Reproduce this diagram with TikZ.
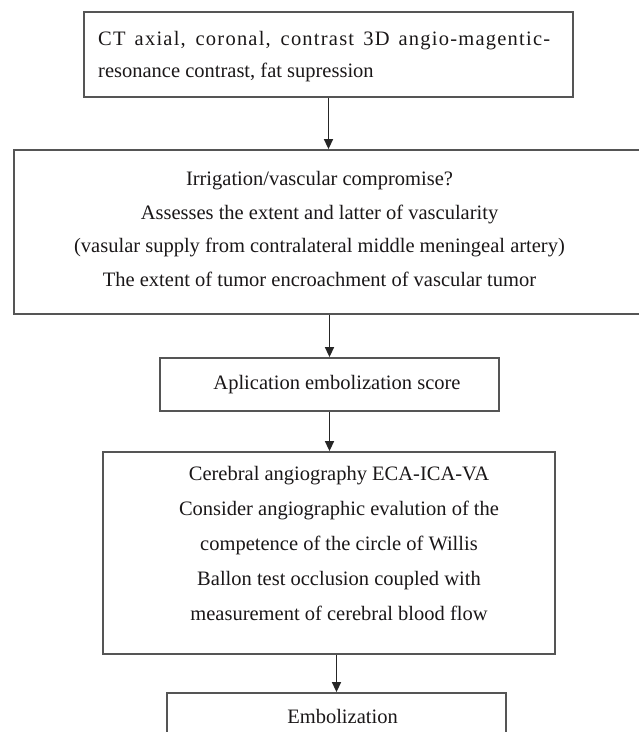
\documentclass[tikz,border=0pt]{standalone}
\usepackage{fontspec}
\setmainfont{Liberation Serif}
\usetikzlibrary{arrows.meta}
\definecolor{boxgray}{HTML}{555555}
\definecolor{ink}{HTML}{1A1718}
\begin{document}
\begin{tikzpicture}[x=1pt,y=-1pt,
  box/.style={draw=boxgray,line width=1.8pt,rectangle,inner sep=0pt},
  txt/.style={text=ink,inner sep=0pt,align=center},
  arr/.style={draw=black!85,line width=1.5pt,-{Triangle[width=9pt,length=10pt]}}]
\useasboundingbox (0,0) rectangle (639,732);
\clip (0,0) rectangle (639,732);
% boxes
\node[box,minimum width=489pt,minimum height=85pt] (b1) at (328.5,54.5) {};
\node[box,minimum width=630pt,minimum height=164pt] (b2) at (329,232) {};
\node[box,minimum width=339pt,minimum height=53pt] (b3) at (329.5,384.5) {};
\node[box,minimum width=452pt,minimum height=202pt] (b4) at (329,553) {};
\node[box,minimum width=339pt,minimum height=80pt] (b5) at (336.5,733) {};
% texts
\node[txt,anchor=west,text width=452pt,align=justify,font=\fontsize{20.5pt}{32pt}\selectfont] (t1) at (98,56.5)
  {{\addfontfeature{LetterSpace=6}CT axial, coronal, contrast 3D angio-magentic-}\linebreak resonance contrast, fat supression};
\node[txt,font=\fontsize{20.5pt}{33.5pt}\selectfont] (t2) at (319.5,229)
  {Irrigation/vascular compromise?\\Assesses the extent and latter of vascularity\\(vasular supply from contralateral middle meningeal artery)\\The extent of tumor encroachment of vascular tumor};
\node[txt,font=\fontsize{20.5pt}{33pt}\selectfont] (t3) at (337,385) {Aplication embolization score};
\node[txt,font=\fontsize{20.5pt}{35pt}\selectfont] (t4) at (339,543)
  {Cerebral angiography ECA-ICA-VA\\Consider angiographic evalution of the\\competence of the circle of Willis\\Ballon test occlusion coupled with\\measurement of cerebral blood flow};
\node[txt,font=\fontsize{20.5pt}{33pt}\selectfont] (t5) at (342.5,716) {Embolization};
% arrows
\draw[arr] (b1.south) -- (b1.south |- b2.north);
\draw[arr] (b3.north |- b2.south) -- (b3.north);
\draw[arr] (b3.south) -- (b3.south |- b4.north);
\draw[arr] (b5.north |- b4.south) -- (b5.north);
\end{tikzpicture}
\end{document}
